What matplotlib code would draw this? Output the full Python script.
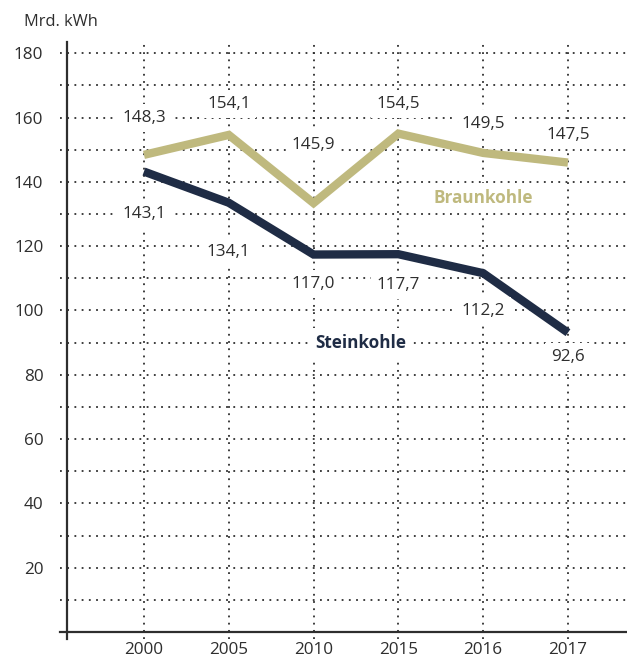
import matplotlib
matplotlib.use("Agg")
import matplotlib.pyplot as plt

years = ["2000", "2005", "2010", "2015", "2016", "2017"]
braunkohle = [148.4, 154.6, 133.4, 155.0, 149.0, 146.0]
steinkohle = [143.2, 133.5, 117.4, 117.5, 111.6, 93.1]
braun_labels = ["148,3", "154,1", "145,9", "154,5", "149,5", "147,5"]
stein_labels = ["143,1", "134,1", "117,0", "117,7", "112,2", "92,6"]
yticks = [20, 40, 60, 80, 100, 120, 140, 160, 180]

C_BRAUN = "#bfb97e"
C_STEIN = "#1f2c45"
C_TEXT = "#2e2e2e"
FONT = ["Open Sans", "DejaVu Sans"]
plt.rcParams["font.family"] = FONT
FS = 12.3

fig = plt.figure(figsize=(6.27, 6.59), dpi=100)
ax = fig.add_axes([60 / 627, 20 / 659, 567 / 627, 597 / 659])

x = list(range(len(years)))
ax.set_xlim(-0.99, 5.696)
ax.set_ylim(-2.18, 183.5)

# grid
ax.set_yticks(yticks)
ax.set_yticks(range(10, 181, 10), minor=True)
ax.set_xticks(x)
ax.set_xticklabels(years)
ax.grid(True, which="both", axis="y", color=C_TEXT, lw=1.3, linestyle=(0, (1, 3.0)))
ax.grid(True, which="major", axis="x", color=C_TEXT, lw=1.3, linestyle=(0, (1, 3.0)))
ax.set_axisbelow(True)

for s in ["top", "right"]:
    ax.spines[s].set_visible(False)
ax.spines["left"].set_position(("data", -0.908))
ax.spines["bottom"].set_position(("data", 0))
for s in ["left", "bottom"]:
    ax.spines[s].set_color(C_TEXT)
    ax.spines[s].set_linewidth(1.6)
    ax.spines[s].set_zorder(3)

ax.tick_params(axis="both", which="both", length=0, labelsize=FS, colors=C_TEXT)
ax.tick_params(axis="y", pad=17)
ax.tick_params(axis="x", pad=7)

ax.plot(x, braunkohle, color=C_BRAUN, lw=6, solid_joinstyle="miter", solid_capstyle="butt", zorder=4)
ax.plot(x, steinkohle, color=C_STEIN, lw=6, solid_joinstyle="miter", solid_capstyle="butt", zorder=4)

bbox = dict(boxstyle="square,pad=0.35", fc="white", ec="none")
braun_off = [37, 31, 58, 30, 29, 28]
stein_off = [-42, -49, -29, -31, -38, -24]
for xi, v, lab, o in zip(x, braunkohle, braun_labels, braun_off):
    ax.annotate(lab, (xi, v), xytext=(0, o), textcoords="offset pixels",
                ha="center", va="center", fontsize=FS, color=C_TEXT, bbox=bbox, zorder=5)
for xi, v, lab, o in zip(x, steinkohle, stein_labels, stein_off):
    ax.annotate(lab, (xi, v), xytext=(0, o), textcoords="offset pixels",
                ha="center", va="center", fontsize=FS, color=C_TEXT, bbox=bbox, zorder=5)

ax.text(4.0, 135, "Braunkohle", ha="center", va="center", fontsize=FS,
        fontweight="bold", color=C_BRAUN, bbox=bbox, zorder=5)
ax.text(2.56, 89.8, "Steinkohle", ha="center", va="center", fontsize=FS,
        fontweight="bold", color=C_STEIN, bbox=bbox, zorder=5)

fig.text(61 / 627, 1 - 22 / 659, "Mrd. kWh", ha="center", va="center",
         fontsize=11.8, color=C_TEXT)

fig.savefig("out.png", dpi=100)
